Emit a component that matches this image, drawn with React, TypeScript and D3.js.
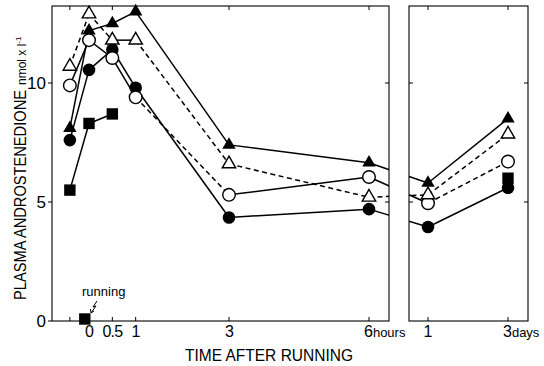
import React from 'react';
import * as d3 from 'd3';

// time points (hours after running, then days)
const hourTimes = [-0.41, 0, 0.5, 1, 3, 6];
const dayTimes = [1, 3];
const hourTicks = [-0.41, 0, 0.5, 1, 3, 6];
const hourTickLabels = ['0', '0.5', '1', '3', '6'];
const dayTickLabels = ['1', '3'];
const yTicks = [0, 5, 10];

// androstenedione, nmol/l (null = not measured)
const filledTriangle = [8.1, 12.2, 12.5, 13.0, 7.4, 6.65, 5.8, 8.5];
const openTriangle = [10.7, 12.9, 11.8, 11.8, 6.6, 5.2, 5.3, 7.85];
const openCircle = [9.9, 11.8, 11.05, 9.4, 5.3, 6.05, 4.95, 6.7];
const filledCircle = [7.6, 10.55, 11.4, 9.8, 4.35, 4.7, 3.95, 5.6];
const filledSquare = [5.5, 8.3, 8.7, null, null, null, null, 6.0];
const runningMark = { t: -0.09, v: 0 };

// dashed flag per segment (pre-0, 0-0.5, 0.5-1, 1-3, 3-6, 6h-1d, 1d-3d)
const dashFilledTriangle = [false, false, false, false, false, false, false];
const dashOpenTriangle = [true, true, false, true, true, true, true];
const dashOpenCircle = [false, false, false, true, false, false, true];
const dashFilledCircle = [false, false, false, false, false, false, false];
const dashFilledSquare = [false, false, false, false, false, false, false];

type Series = { values: (number | null)[]; dash: boolean[]; shape: string };
const series: Series[] = [
    { values: filledSquare, dash: dashFilledSquare, shape: 'squareFilled' },
    { values: filledCircle, dash: dashFilledCircle, shape: 'circleFilled' },
    { values: openCircle, dash: dashOpenCircle, shape: 'circleOpen' },
    { values: openTriangle, dash: dashOpenTriangle, shape: 'triangleOpen' },
    { values: filledTriangle, dash: dashFilledTriangle, shape: 'triangleFilled' },
];

const font = "'Liberation Sans Narrow', 'Liberation Sans', Arial, sans-serif";

export default function App() {
    const left = { x0: 52, x1: 389 };
    const right = { x0: 409, x1: 528 };
    const top = 6;
    const bottom = 321;

    const xHours = d3.scaleLinear().domain([0, 6]).range([89, 369]);
    const xDays = d3.scaleLinear().domain([1, 3]).range([428, 508]);
    const y = d3.scaleLinear().domain([0, 10]).range([bottom, 83]);

    const px = (i: number) => (i < hourTimes.length ? xHours(hourTimes[i]) : xDays(dayTimes[i - hourTimes.length]));

    const triPath = d3.symbol().type(d3.symbolTriangle).size(78)() as string;
    const sqPath = d3.symbol().type(d3.symbolSquare).size(130)() as string;

    const marker = (shape: string, cx: number, cy: number, key: string) => {
        const tr = `translate(${cx},${cy})`;
        if (shape === 'squareFilled') return <path key={key} d={sqPath} transform={tr} fill="#000" />;
        if (shape === 'circleFilled') return <circle key={key} cx={cx} cy={cy} r={6.3} fill="#000" />;
        if (shape === 'circleOpen')
            return <circle key={key} cx={cx} cy={cy} r={6.3} fill="#fff" stroke="#000" strokeWidth={1.4} />;
        if (shape === 'triangleOpen')
            return <path key={key} d={triPath} transform={tr} fill="#fff" stroke="#000" strokeWidth={1.4} />;
        return <path key={key} d={triPath} transform={tr} fill="#000" />;
    };

    const tickLen = 4;

    return (
        <svg width={544} height={366} style={{ position: 'absolute', left: 0, top: 0 }}>
            <defs>
                <clipPath id="panels">
                    <rect x={left.x0} y={0} width={left.x1 - left.x0} height={bottom} />
                    <rect x={right.x0} y={0} width={right.x1 - right.x0} height={bottom} />
                </clipPath>
            </defs>
            <rect width={544} height={366} fill="#fff" />

            {/* panel frames */}
            <g stroke="#000" strokeWidth={1.1} fill="none">
                <rect x={left.x0} y={top} width={left.x1 - left.x0} height={bottom - top} />
                <rect x={right.x0} y={top} width={right.x1 - right.x0} height={bottom - top} />
            </g>

            {/* ticks */}
            <g stroke="#000" strokeWidth={1}>
                {yTicks.map((t) => (
                    <line key={'yl' + t} x1={left.x0 - tickLen} x2={left.x0} y1={y(t)} y2={y(t)} />
                ))}
                {yTicks.slice(1).map((t) => (
                    <g key={'yr' + t}>
                        <line x1={left.x1 - tickLen} x2={left.x1} y1={y(t)} y2={y(t)} />
                        <line x1={right.x0} x2={right.x0 + tickLen} y1={y(t)} y2={y(t)} />
                        <line x1={right.x1 - tickLen} x2={right.x1} y1={y(t)} y2={y(t)} />
                    </g>
                ))}
                {hourTicks.map((t) => (
                    <g key={'xh' + t}>
                        <line x1={xHours(t)} x2={xHours(t)} y1={bottom} y2={bottom - tickLen} />
                        <line x1={xHours(t)} x2={xHours(t)} y1={top} y2={top + tickLen} />
                    </g>
                ))}
                {dayTimes.map((t) => (
                    <g key={'xd' + t}>
                        <line x1={xDays(t)} x2={xDays(t)} y1={bottom} y2={bottom - tickLen} />
                        <line x1={xDays(t)} x2={xDays(t)} y1={top} y2={top + tickLen} />
                    </g>
                ))}
            </g>

            {/* y tick labels */}
            <g fontFamily={font} fontSize={17} textAnchor="end" fill="#000">
                {yTicks.map((t) => (
                    <text key={t} x={left.x0 - 6} y={y(t) + 6}>
                        {t}
                    </text>
                ))}
            </g>

            {/* x tick labels */}
            <g fontFamily={font} fontSize={16} textAnchor="middle" fill="#000">
                {hourTickLabels.slice(0, 4).map((l) => (
                    <text key={l} x={xHours(+l)} y={bottom + 16} letterSpacing={-0.8}>
                        {l}
                    </text>
                ))}
                <text x={xHours(6) - 5} y={bottom + 16} textAnchor="start">
                    6<tspan fontSize={13}>hours</tspan>
                </text>
                <text x={xDays(+dayTickLabels[0])} y={bottom + 16}>
                    {dayTickLabels[0]}
                </text>
                <text x={xDays(+dayTickLabels[1]) - 5} y={bottom + 16} textAnchor="start">
                    {dayTickLabels[1]}
                    <tspan fontSize={13}>days</tspan>
                </text>
            </g>

            {/* axis titles */}
            <text x={185} y={361} fontFamily={font} fontSize={16} textLength={168} lengthAdjust="spacingAndGlyphs">
                TIME AFTER RUNNING
            </text>
            <g transform="translate(26,300) rotate(-90)" fontFamily={font} fill="#000">
                <text x={0} y={0} fontSize={16} textLength={210} lengthAdjust="spacingAndGlyphs">
                    PLASMA ANDROSTENEDIONE
                </text>
                <text x={215} y={0} fontSize={12}>
                    nmol x l<tspan fontSize={8} dy={-5}>-1</tspan>
                </text>
            </g>

            {/* lines */}
            <g clipPath="url(#panels)" stroke="#000" strokeWidth={1.5} fill="none">
                {series.map((s, si) =>
                    s.values.slice(1).map((v, i) => {
                        const a = s.values[i];
                        if (a === null || v === null) return null;
                        return (
                            <line
                                key={si + '-' + i}
                                x1={px(i)}
                                y1={y(a)}
                                x2={px(i + 1)}
                                y2={y(v)}
                                strokeDasharray={s.dash[i] ? '5,3.5' : undefined}
                            />
                        );
                    })
                )}
            </g>

            {/* markers */}
            <g>
                {series.map((s, si) =>
                    s.values.map((v, i) => (v === null ? null : marker(s.shape, px(i), y(v), si + 'm' + i)))
                )}
                {marker('squareFilled', xHours(runningMark.t), y(runningMark.v) - 2, 'run')}
            </g>

            {/* running annotation */}
            <text x={82} y={296} fontFamily={font} fontSize={13}>
                running
            </text>
            <path d="M97,301 L93,307 L96,306 L91,313" stroke="#000" strokeWidth={1} fill="none" />
            <path d="M91,313 L90.5,309 M91,313 L94,311" stroke="#000" strokeWidth={1} fill="none" />
        </svg>
    );
}
